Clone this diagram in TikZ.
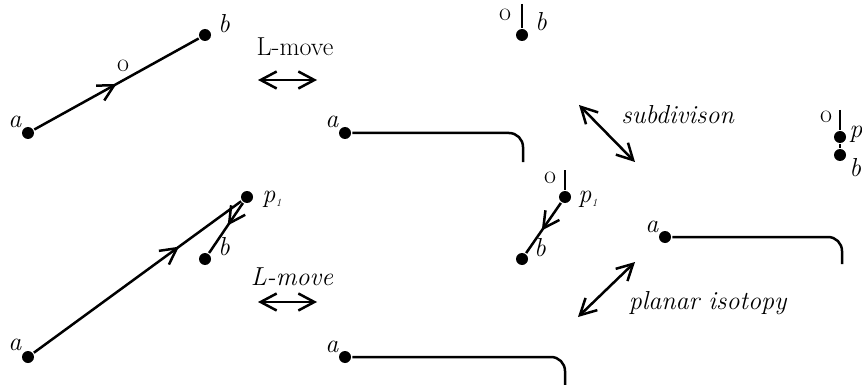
\documentclass[tikz,border=0pt]{standalone}
\usepackage{fontspec}
\usetikzlibrary{arrows.meta,decorations.markings}
\newcommand{\pone}{\textit{p}\kern0.5pt\raisebox{-4pt}{\fontsize{11}{11}\selectfont\textit{1}}}
\begin{document}
\begin{tikzpicture}[x=1pt,y=-1pt,
  line width=2.5pt,
  >={Straight Barb[length=16pt,width=17pt]},
  every node/.style={font=\fontsize{26}{30}\selectfont},
  dot/.style={circle,fill,inner sep=0pt,minimum size=12pt},
  lbl/.style={inner sep=0pt},
  midarrow/.style={postaction={decorate},decoration={markings,mark=at position #1 with {\arrow{>}}}},
  hookline/.style={rounded corners=14pt}]
\useasboundingbox (0,0) rectangle (862,385);
\clip (0,0) rectangle (862,385);
% top-left
\node[dot] (a1) at (28,133) {};
\node[dot] (b1) at (205,35) {};
\node[lbl] (la1) at (15,122) {\textit{a}};
\node[lbl] (lb1) at (224,24) {\textit{b}};
\node[lbl] (o1) at (123,66) {o};
\draw[midarrow=0.5] (a1) -- (b1);
% top L-move
\node[lbl] (t1) at (295,47) {L-move};
\coordinate (d1l) at (258,80);
\coordinate (d1r) at (317,80);
\draw[<->] (d1l) -- (d1r);
% top middle
\node[dot] (a2) at (345,133) {};
\coordinate (c2) at (523,162);
\draw[hookline] (a2) -| (c2);
\node[lbl] (la2) at (332,122) {\textit{a}};
\coordinate (e2) at (522,4);
\node[dot] (b2) at (522,35) {};
\draw (e2) -- (b2);
\node[lbl] (o2) at (505,15) {o};
\node[lbl] (lb2) at (541,22) {\textit{b}};
% subdivision arrow
\coordinate (s1) at (579,105);
\coordinate (s2) at (635,162);
\draw[<->] (s1) -- (s2);
\node[lbl] (ts) at (678,115) {\textit{subdivison}};
% right
\coordinate (e3) at (840,110);
\node[dot] (p3) at (840,137) {};
\node[dot] (b3) at (840,155) {};
\draw (e3) -- (p3) -- (b3);
\node[lbl] (o3) at (826,117) {o};
\node[lbl,anchor=west] (lp3) at (848,134) {\pone};
\node[lbl,anchor=west] (lb3) at (848,168) {\textit{b}};
% middle right
\node[dot] (a4) at (665,237) {};
\coordinate (c4) at (842,264);
\draw[hookline] (a4) -| (c4);
\node[lbl] (la4) at (652,227) {\textit{a}};
% planar isotopy
\coordinate (q1) at (578,317);
\coordinate (q2) at (635,262);
\draw[<->] (q1) -- (q2);
\node[lbl] (tq) at (708,303) {\textit{planar isotopy}};
% middle lower
\coordinate (e5) at (565,170);
\node[dot] (p5) at (565,197) {};
\node[dot] (b5) at (522,259) {};
\draw (e5) -- (p5);
\draw[midarrow=0.55] (p5) -- (b5);
\node[lbl] (o5) at (550,178) {o};
\node[lbl,anchor=west] (lp5) at (577,199) {\pone};
\node[lbl] (lb5) at (540,248) {\textit{b}};
% bottom left
\node[dot] (a6) at (28,357) {};
\node[dot] (p6) at (247,197) {};
\node[dot] (b6) at (205,259) {};
\draw[midarrow=0.7] (a6) -- (p6);
\draw[midarrow=0.45] (p6) -- (b6);
\node[lbl] (la6) at (15,345) {\textit{a}};
\node[lbl,anchor=west] (lp6) at (261,199) {\pone};
\node[lbl] (lb6) at (224,247) {\textit{b}};
% bottom L-move
\node[lbl] (t2) at (292,277) {\textit{L-move}};
\coordinate (d2l) at (258,302);
\coordinate (d2r) at (317,302);
\draw[<->] (d2l) -- (d2r);
% bottom middle
\node[dot] (a7) at (345,357) {};
\coordinate (c7) at (565,392);
\draw[hookline] (a7) -| (c7);
\node[lbl] (la7) at (332,347) {\textit{a}};
\end{tikzpicture}
\end{document}
